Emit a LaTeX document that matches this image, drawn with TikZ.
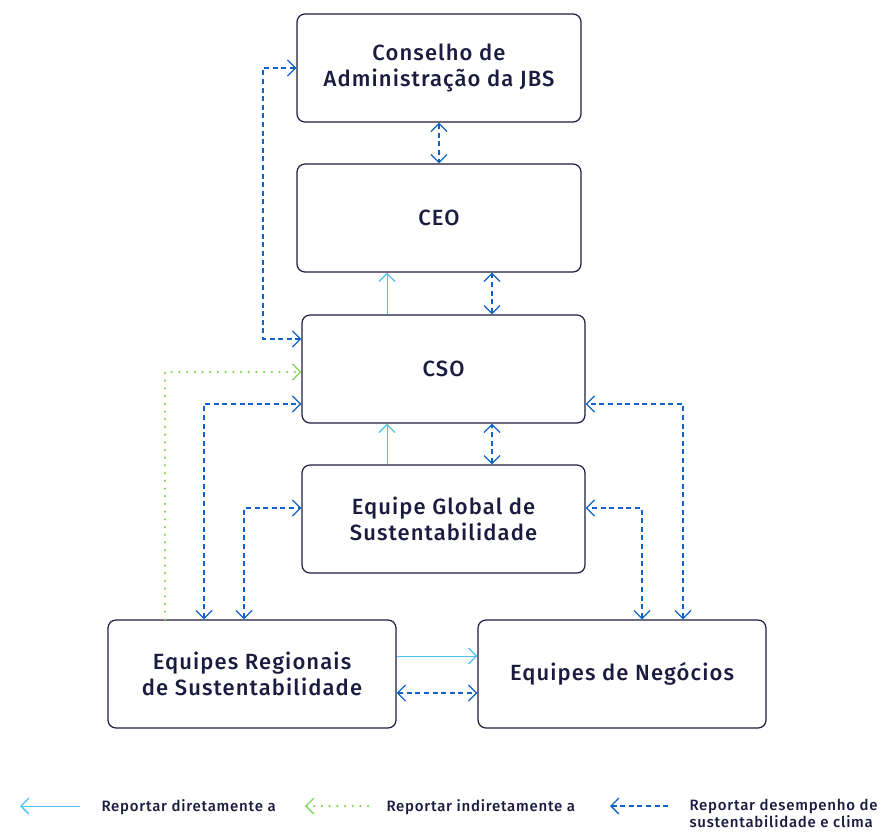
\documentclass[tikz,border=0pt]{standalone}
\usepackage{fontspec}
\setmainfont{Fira Sans Medium}[LetterSpace=5]
\usetikzlibrary{arrows.meta}
\definecolor{navy}{HTML}{1B1B3F}
\definecolor{lightblue}{HTML}{4CC3F2}
\definecolor{darkblue}{HTML}{0F63C6}
\definecolor{green}{HTML}{7CD957}
\begin{document}
\begin{tikzpicture}[x=1pt,y=-1pt,
    box/.style={draw=navy, line width=1.2pt, rounded corners=8pt, minimum height=108pt, text=navy, font=\fontsize{22}{26}\selectfont, align=center},
    direct/.style={draw=lightblue, line width=1pt, arrows={-tip}},
    indirect/.style={draw=green, line width=2.5pt, line cap=round, dash pattern=on 0pt off 7.7pt, arrows={-tip}},
    perf/.style={draw=darkblue, line width=1.4pt, dash pattern=on 5pt off 3.6pt, arrows={tip-tip}},
    legtext/.style={anchor=base west, text=navy, font=\fontsize{15}{16.5}\selectfont, align=left}]
    \tikzset{tip/.tip={Straight Barb[length=8pt,width=16pt,line width=1.3pt]}}
    \useasboundingbox (0,0) rectangle (882,831);
        \node [box, minimum width=284pt] (cons) at (439,68) {Conselho de\\Administração da JBS};
        \node [box, minimum width=284pt] (ceo) at (439,218) {CEO};
        \node [box, minimum width=283pt] (cso) at (443.5,369) {CSO};
        \node [box, minimum width=283pt] (glob) at (443.5,519) {Equipe Global de\\Sustentabilidade};
        \node [box, minimum width=288pt] (reg) at (252,674) {Equipes Regionais\\de Sustentabilidade};
        \node [box, minimum width=288pt] (neg) at (622,674) {Equipes de Negócios};
        % vertical links in the middle column
        \draw [perf] (cons.south) -- (ceo.north);
        \draw [direct] ([xshift=-56.5]cso.north) -- ([xshift=-56.5]cso.north |- ceo.south);
        \draw [perf] ([xshift=48.5]cso.north) -- ([xshift=48.5]cso.north |- ceo.south);
        \draw [direct] ([xshift=-56.5]glob.north) -- ([xshift=-56.5]glob.north |- cso.south);
        \draw [perf] ([xshift=48.5]glob.north) -- ([xshift=48.5]glob.north |- cso.south);
        % loops on the left
        \draw [perf] (cons.west) -- ++(-33.5,0) |- ([yshift=30]cso.west);
        \draw [indirect] ([xshift=-87]reg.north) |- ([yshift=-3]cso.west);
        \draw [perf] ([xshift=-48]reg.north) |- ([yshift=-35]cso.west);
        \draw [perf] ([xshift=-8]reg.north) |- ([yshift=11]glob.west);
        % loops on the right
        \draw [perf] ([xshift=61]neg.north) |- ([yshift=-35]cso.east);
        \draw [perf] ([xshift=20]neg.north) |- ([yshift=11]glob.east);
        % bottom row
        \draw [direct] ([yshift=18]reg.east) -- ([yshift=18]reg.east -| neg.west);
        \draw [perf] ([yshift=-19]reg.east) -- ([yshift=-19]reg.east -| neg.west);
        % legend
        \coordinate (d1) at (20,806);
        \coordinate (d2) at (80,806);
        \coordinate (i1) at (305,806);
        \coordinate (i2) at (370,806);
        \coordinate (p1) at (610,806);
        \coordinate (p2) at (668,806);
        \draw [direct, arrows={tip-}] (d1) -- (d2);
        \draw [indirect, arrows={tip-}] (i1) -- (i2);
        \draw [perf, arrows={tip-}] (p1) -- (p2);
        \node [legtext] (dtext) at (98,811) {Reportar diretamente a};
        \node [legtext] (itext) at (383,811) {Reportar indiretamente a};
        \node [legtext, anchor=north west, inner ysep=0pt] (ptext) at (686,799) {Reportar desempenho de\\sustentabilidade e clima};
\end{tikzpicture}
\end{document}
